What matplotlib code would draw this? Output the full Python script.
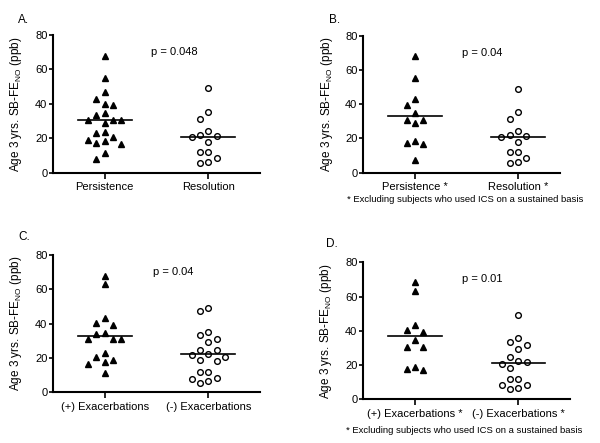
import matplotlib
matplotlib.use("Agg")
import matplotlib.pyplot as plt
import numpy as np

plt.rcParams['font.family'] = ['Liberation Sans', 'DejaVu Sans']
plt.rcParams['mathtext.fontset'] = 'custom'
plt.rcParams['mathtext.rm'] = 'Liberation Sans'
plt.rcParams['mathtext.it'] = 'Liberation Sans'

# values (ppb)
a_persist = [67.8, 55.2, 47.1, 43.0, 40.2, 39.5, 34.5, 33.7, 30.6, 30.6, 30.6, 29.1,
             23.8, 23.2, 20.5, 19.0, 18.6, 17.4, 16.7, 11.6, 7.7]
a_resol = [49.0, 35.3, 31.2, 24.2, 22.1, 21.5, 20.5, 18.0, 11.8, 11.8, 8.3, 6.2, 5.6]
b_persist = [68.1, 55.5, 43.2, 39.6, 34.6, 30.8, 30.8, 29.2, 18.7, 17.5, 16.7, 7.4]
b_resol = [49.0, 35.4, 31.3, 24.3, 22.2, 21.6, 20.6, 18.1, 11.9, 11.9, 8.4, 6.2, 5.6]
c_plus = [67.8, 62.8, 43.0, 40.1, 39.1, 34.3, 33.7, 30.8, 30.8, 30.8, 23.1, 20.7,
          18.8, 17.4, 16.5, 11.4]
c_minus = [48.8, 47.3, 35.3, 33.3, 31.2, 29.2, 24.6, 24.6, 22.1, 21.5, 20.7, 18.6,
           18.2, 12.0, 12.0, 8.5, 7.9, 6.6, 5.6]
d_plus = [68.3, 63.3, 43.4, 40.5, 39.5, 34.6, 30.8, 30.8, 19.1, 17.7, 16.9]
d_minus = [49.2, 35.6, 33.7, 31.5, 29.6, 24.7, 22.6, 22.0, 20.6, 18.5, 12.1, 12.1,
           8.6, 8.2, 6.4, 6.0]

medians_a = [30.6, 20.5]
medians_b = [33.3, 20.6]
medians_c = [32.7, 22.5]
medians_d = [37.0, 21.4]

labels_ab = ['Persistence', 'Resolution']
labels_b = ['Persistence *', 'Resolution *']
labels_c = ['(+) Exacerbations', '(-) Exacerbations']
labels_d = ['(+) Exacerbations *', '(-) Exacerbations *']
pvals = ['p = 0.048', 'p = 0.04', 'p = 0.04', 'p = 0.01']
note = '* Excluding subjects who used ICS on a sustained basis'
ylabel = 'Age 3 yrs. SB-FE$_{\\mathrm{NO}}$ (ppb)'


def swarm(vals, step=0.08, ygap=5.0):
    # simple beeswarm: spread points that would overlap
    order = np.argsort(vals)[::-1]
    cands = [0, -0.5, 0.5, -1, 1, -1.5, 1.5, -2, 2, -2.5, 2.5, -3, 3]
    placed = []
    xs = np.zeros(len(vals))
    for i in order:
        v = vals[i]
        for c in cands:
            ok = True
            for (px, py) in placed:
                if abs(px - c) < 0.99 and abs(py - v) < ygap:
                    ok = False
                    break
            if ok:
                break
        placed.append((c, v))
        xs[i] = c * step
    return xs


def panel(rect, g1, g2, meds, labels, ptxt, ptx, xlim):
    ax = fig.add_axes(rect)
    g1 = np.array(g1)
    g2 = np.array(g2)
    ax.plot(0 + swarm(g1), g1, linestyle='none', marker='^', ms=3.9,
            color='black', mec='black')
    ax.plot(1 + swarm(g2), g2, linestyle='none', marker='o', ms=4.1,
            mfc='white', mec='black', mew=1.0)
    for i, m in enumerate(meds):
        ax.plot([i - 0.26, i + 0.26], [m, m], color='black', lw=1.2)
    ax.set_xlim(*xlim)
    ax.set_ylim(0, 80)
    ax.set_yticks([0, 20, 40, 60, 80])
    ax.set_xticks([0, 1])
    ax.set_xticklabels(labels, fontsize=8)
    ax.tick_params(axis='y', labelsize=8, length=3, width=1.2, pad=1)
    ax.tick_params(axis='x', length=4, width=1.2, pad=3)
    for s in ['top', 'right']:
        ax.spines[s].set_visible(False)
    for s in ['left', 'bottom']:
        ax.spines[s].set_linewidth(1.5)
    ax.set_ylabel(ylabel, fontsize=8.5)
    ax.yaxis.set_label_coords(-0.14, 0.5)
    ax.text(ptx, 70, ptxt, fontsize=8, va='center', ha='left')
    ax.patch.set_visible(False)
    return ax


fig = plt.figure(figsize=(6, 4.43), dpi=100)

panel([53 / 600, 1 - 172.7 / 443, 207 / 600, 137.7 / 443], a_persist, a_resol,
      medians_a, labels_ab, pvals[0], 0.45, (-0.5, 1.5))
panel([363 / 600, 1 - 172.7 / 443, 197 / 600, 137 / 443], b_persist, b_resol,
      medians_b, labels_b, pvals[1], 0.456, (-0.505, 1.41))
panel([53 / 600, 1 - 392.3 / 443, 207 / 600, 137.6 / 443], c_plus, c_minus,
      medians_c, labels_c, pvals[2], 0.47, (-0.5, 1.5))
panel([363 / 600, 1 - 399.3 / 443, 207 / 600, 137 / 443], d_plus, d_minus,
      medians_d, labels_d, pvals[3], 0.456, (-0.505, 1.5))

fig.text(18 / 600, 1 - 20 / 443, 'A.', fontsize=8.5, va='center')
fig.text(329 / 600, 1 - 20 / 443, 'B.', fontsize=8.5, va='center')
fig.text(18 / 600, 1 - 237 / 443, 'C.', fontsize=8.5, va='center')
fig.text(326 / 600, 1 - 244 / 443, 'D.', fontsize=8.5, va='center')
fig.text(465 / 600, 1 - 200 / 443, note, fontsize=6.8, ha='center', va='center')
fig.text(464 / 600, 1 - 430.7 / 443, note, fontsize=6.8, ha='center', va='center')

fig.savefig('out.png', dpi=100)
